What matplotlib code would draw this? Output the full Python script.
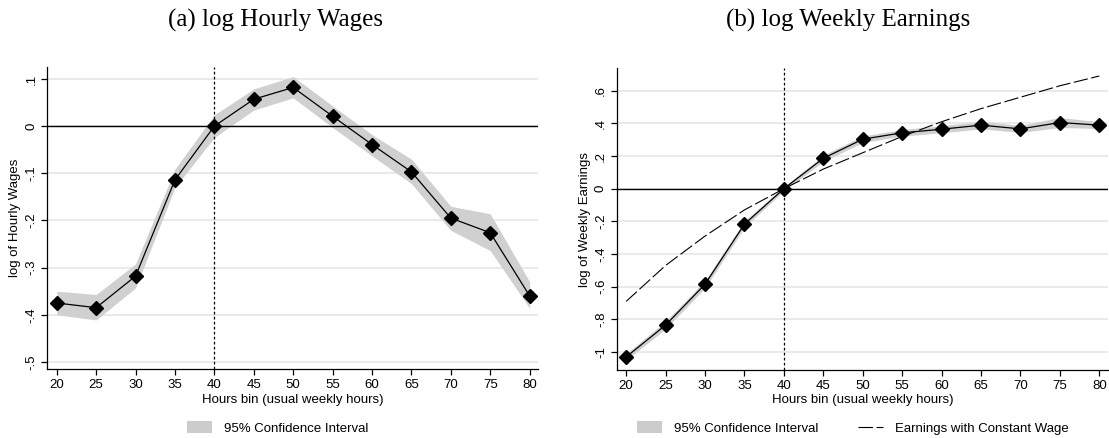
import matplotlib
matplotlib.use("Agg")
import matplotlib.pyplot as plt
from matplotlib.patches import Patch
from matplotlib.lines import Line2D

plt.rcParams['font.family'] = ['Liberation Sans', 'DejaVu Sans']

hours = [20, 25, 30, 35, 40, 45, 50, 55, 60, 65, 70, 75, 80]

wage = [-0.375, -0.385, -0.318, -0.114, 0.0, 0.057, 0.082, 0.021, -0.039, -0.097, -0.195, -0.226, -0.360]
wage_hi = [-0.350, -0.357, -0.292, -0.091, 0.024, 0.079, 0.105, 0.043, -0.018, -0.070, -0.170, -0.186, -0.330]
wage_lo = [-0.400, -0.411, -0.343, -0.130, -0.024, 0.034, 0.060, -0.003, -0.063, -0.122, -0.221, -0.264, -0.386]

earn = [-1.030, -0.835, -0.585, -0.217, 0.0, 0.186, 0.303, 0.342, 0.364, 0.389, 0.366, 0.405, 0.389]
earn_hi = [-1.010, -0.812, -0.562, -0.197, 0.012, 0.206, 0.323, 0.362, 0.386, 0.412, 0.388, 0.436, 0.410]
earn_lo = [-1.050, -0.858, -0.608, -0.237, -0.012, 0.166, 0.283, 0.322, 0.342, 0.366, 0.344, 0.375, 0.368]

const_wage = [-0.69, -0.47, -0.29, -0.13, 0.0, 0.12, 0.22, 0.32, 0.41, 0.49, 0.56, 0.63, 0.69]

wage_ticks = [0.1, 0.0, -0.1, -0.2, -0.3, -0.4, -0.5]
wage_ticklabels = ['.1', '0', '-.1', '-.2', '-.3', '-.4', '-.5']
earn_ticks = [0.6, 0.4, 0.2, 0.0, -0.2, -0.4, -0.6, -0.8, -1.0]
earn_ticklabels = ['.6', '.4', '.2', '0', '-.2', '-.4', '-.6', '-.8', '-1']

titles = ['(a) log Hourly Wages', '(b) log Weekly Earnings']
ylabels = ['log of Hourly Wages', 'log of Weekly Earnings']
xlabel = 'Hours bin (usual weekly hours)'

W, H = 1109, 438
fig = plt.figure(figsize=(W / 100, H / 100), dpi=100)

def px_axes(x0, x1, ytop, ybot):
    return fig.add_axes([x0 / W, 1 - ybot / H, (x1 - x0) / W, (ybot - ytop) / H])

axL = px_axes(47.3, 538.3, 66.7, 369)
axR = px_axes(616.7, 1108, 68.3, 370)

band_color = '#d0d0d0'
FS = 9.5

def style(ax, yt, ytl, ylim, ylab):
    ax.set_xlim(18.8, 81.1)
    ax.set_ylim(*ylim)
    ax.set_xticks(hours)
    ax.set_xticklabels([str(h) for h in hours], fontsize=FS)
    ax.set_yticks(yt)
    ax.set_yticklabels(ytl, fontsize=FS, rotation=90, va='center')
    for s in ['top', 'right']:
        ax.spines[s].set_visible(False)
    for s in ['left', 'bottom']:
        ax.spines[s].set_linewidth(0.9)
    ax.tick_params(direction='out', length=4, width=0.9, pad=3)
    ax.yaxis.grid(True, color='#e8e8e8', lw=1.3)
    ax.set_axisbelow(True)
    ax.set_ylabel(ylab, fontsize=FS, labelpad=3)
    ax.set_xlabel(xlabel, fontsize=FS, labelpad=2)
    ax.axhline(0, color='black', lw=1.0, zorder=2)
    ax.axvline(40, color='black', lw=0.9, ls=(0, (2.2, 1.8)), zorder=2)

# Left panel
axL.fill_between(hours, wage_lo, wage_hi, color=band_color, lw=0, zorder=1)
axL.plot(hours, wage, color='black', lw=0.9, marker='D', ms=7, zorder=3)
style(axL, wage_ticks, wage_ticklabels, (-0.515, 0.126), ylabels[0])

# Right panel
axR.fill_between(hours, earn_lo, earn_hi, color=band_color, lw=0, zorder=1)
axR.plot(hours, const_wage, color='black', lw=0.8, dashes=(13, 3.2), zorder=3)
axR.plot(hours, earn, color='black', lw=0.9, marker='D', ms=7, zorder=3)
style(axR, earn_ticks, earn_ticklabels, (-1.11, 0.737), ylabels[1])

fig.text(275 / W, 1 - 20 / H, titles[0], fontsize=18, family='Liberation Serif', ha='center', va='center')
fig.text(848 / W, 1 - 20 / H, titles[1], fontsize=18, family='Liberation Serif', ha='center', va='center')

ci = Patch(facecolor='#cccccc', edgecolor='none', label='95% Confidence Interval')
cw = Line2D([], [], color='black', lw=0.8, dashes=(13, 3.2), label='Earnings with Constant Wage')

legkw = dict(frameon=False, fontsize=FS, handlelength=1.9, handleheight=1.0,
             handletextpad=0.9, columnspacing=3.0, loc='center', borderpad=0, borderaxespad=0)
fig.legend(handles=[ci], bbox_to_anchor=(278 / W, 1 - 428 / H), **legkw)
fig.legend(handles=[ci, cw], ncol=2, bbox_to_anchor=(853 / W, 1 - 428 / H), **legkw)

fig.savefig('out.png', dpi=100)
